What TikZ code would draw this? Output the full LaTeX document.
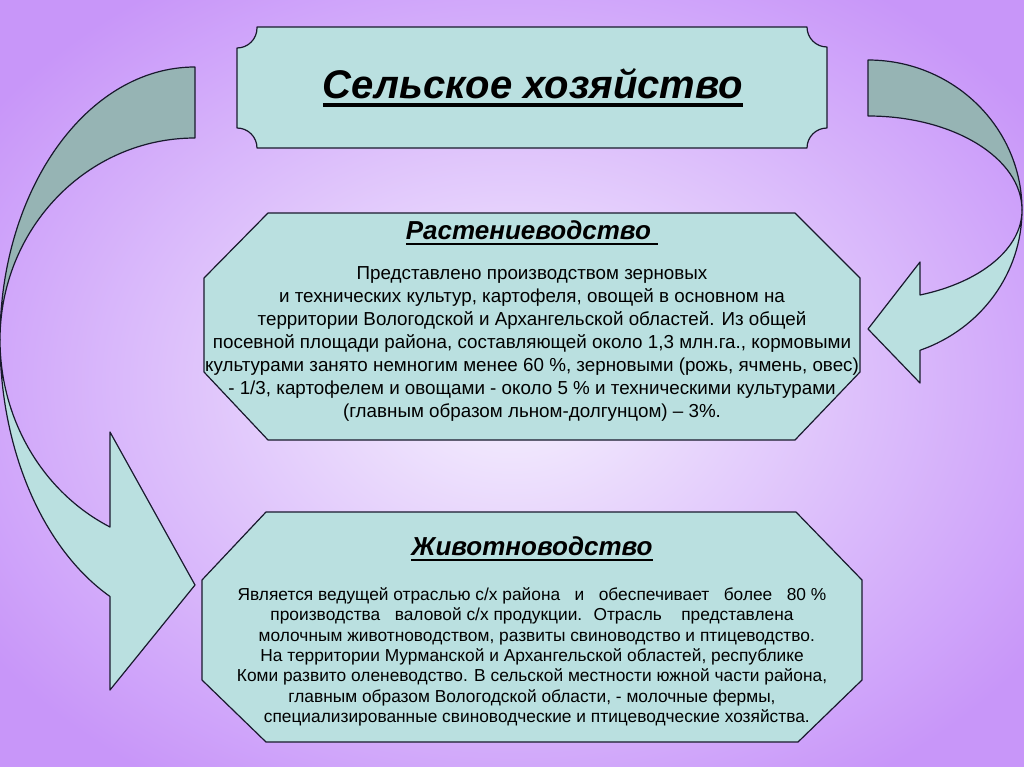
\documentclass[tikz,border=0pt]{standalone}
\usepackage{fontspec}
\setmainfont{Liberation Sans}
\usetikzlibrary{positioning}

\definecolor{boxfill}{RGB}{186,224,224}
\definecolor{backfill}{RGB}{150,180,180}
\definecolor{edgeline}{RGB}{25,25,45}
\definecolor{bgedge}{RGB}{200,150,249}
\definecolor{bgmid}{RGB}{240,230,253}

\pgfdeclareradialshading{slidebg}{\pgfpoint{0bp}{0bp}}{color(0bp)=(bgmid); color(4bp)=(bgmid); color(31bp)=(bgedge); color(100bp)=(bgedge)}

% text with a thick rule under it
\newsavebox\ulbox
\newcommand\ulthick[3]{\sbox\ulbox{#3}\rlap{\usebox\ulbox}\rule[-#1]{\wd\ulbox}{#2}}

\tikzset{
  plate/.style={fill=boxfill, draw=edgeline, line width=0.9pt, line join=round},
  backband/.style={fill=backfill, draw=edgeline, line width=0.9pt, line join=round},
  bodytext/.style={align=center, inner sep=0pt},
  headtext/.style={font=\fontsize{19.5}{22}\selectfont\bfseries\itshape, inner sep=0pt},
}

\begin{document}
\begin{tikzpicture}[x=0.75pt, y=-0.75pt]
  \useasboundingbox (0,0) rectangle (1024,767);
  \shade[shading=slidebg] (0,0) rectangle (1024,767);

  % left arrow
  \draw[backband] (195,67) arc[start angle=270, end angle=180, x radius=195, y radius=273]
    arc[start angle=180, end angle=270, x radius=195, y radius=202] -- cycle;
  \draw[plate] (0,340) arc[start angle=180, end angle=115.85, x radius=195, y radius=285]
    -- (110,690) -- (195,585) -- (110,432) -- (110,527)
    arc[start angle=115.85, end angle=180, x radius=195, y radius=208] -- cycle;

  % right arrow
  \draw[backband] (868,60) arc[start angle=270, end angle=360, x radius=154, y radius=150]
    arc[start angle=0, end angle=-90, x radius=154, y radius=94] -- cycle;
  \draw[plate] (1022,210) arc[start angle=0, end angle=70.26, x radius=154, y radius=149]
    -- (920,383) -- (868,329) -- (920,262) -- (920,295)
    arc[start angle=70.26, end angle=0, x radius=154, y radius=90] -- cycle;

  % boxes
  \draw[plate] (257,27) -- (807,27) arc[start angle=180, end angle=90, radius=20]
    -- (827,128) arc[start angle=270, end angle=180, radius=20]
    -- (257,148) arc[start angle=0, end angle=-90, radius=20]
    -- (237,48) arc[start angle=90, end angle=0, radius=20] -- cycle;
  \draw[plate] (268,213) -- (795,213) -- (860,278) -- (860,372) -- (795,440)
    -- (268,440) -- (204,372) -- (204,278) -- cycle;
  \draw[plate] (266,512) -- (796,512) -- (862,580) -- (862,680) -- (798,742)
    -- (266,742) -- (202,680) -- (202,580) -- cycle;

  \node[font=\fontsize{30}{34}\selectfont\bfseries\itshape, inner sep=0pt] (title) at (533,88)
    {\ulthick{6pt}{3pt}{Сельское хозяйство}};

  \node[headtext] (plant) at (532,233) {\ulthick{4pt}{1.6pt}{Растениеводство }};
  \node[bodytext, font=\fontsize{14.1}{17.25}\selectfont] (plantbody) at (532,344) {Представлено производством зерновых\\
    и технических культур, картофеля, овощей в основном на\\
    территории Вологодской и Архангельской областей. Из общей\\
    посевной площади района, составляющей около 1,3 млн.га., кормовыми\\
    культурами занято немногим менее 60~\%, зерновыми (рожь, ячмень, овес)\\
    - 1/3, картофелем и овощами - около 5~\% и техническими культурами\\
    (главным образом льном-долгунцом) – 3\%.};

  \node[headtext] (animal) at (532,549) {\ulthick{4pt}{1.6pt}{Животноводство}};
  \node[bodytext, font=\fontsize{13}{15.25}\selectfont] (animalbody) at (532,657) {Является ведущей отраслью с/х района \ \ и \ \ обеспечивает \ \ более \ \ 80~\%\\
    производства \ \ валовой с/х продукции. \ Отрасль \ \ \ представлена\\
    \ \ молочным животноводством, развиты свиноводство и птицеводство.\\
    На территории Мурманской и Архангельской областей, республике\\
    Коми развито оленеводство. В сельской местности южной части района,\\
    главным образом Вологодской области, - молочные фермы,\\
    \ \ специализированные свиноводческие и птицеводческие хозяйства.};
\end{tikzpicture}
\end{document}
